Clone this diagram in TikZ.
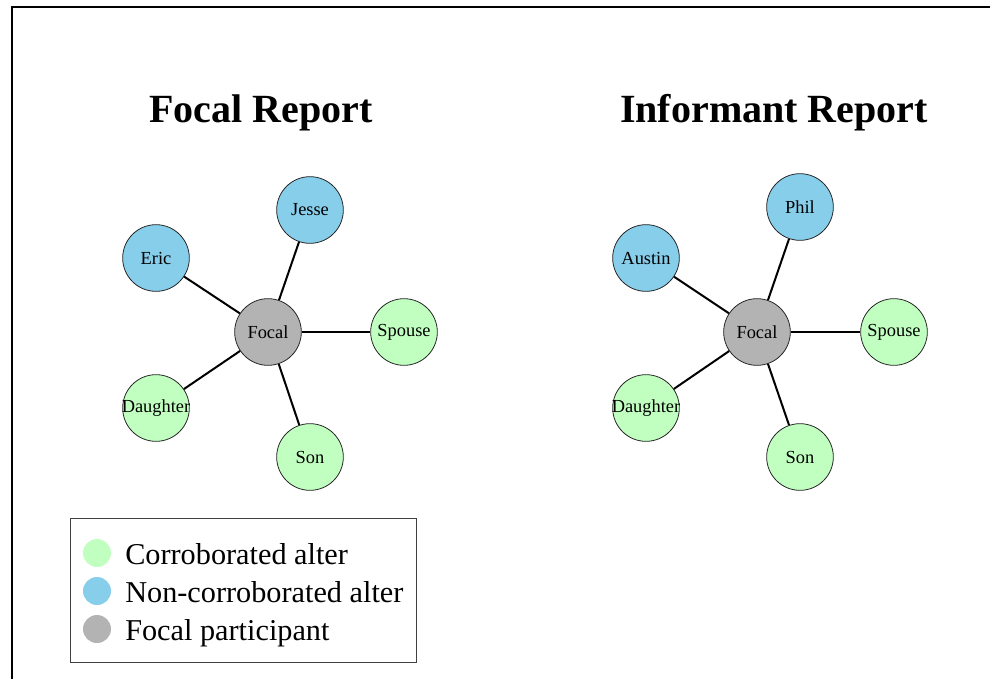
\documentclass[tikz,border=0pt]{standalone}
\usepackage{fontspec}
\setmainfont{Liberation Serif}
\definecolor{corrgreen}{HTML}{C1FFC1}
\definecolor{noncorrblue}{HTML}{87CEEB}
\definecolor{focalgray}{HTML}{B3B3B3}
\begin{document}
\begin{tikzpicture}[x=0.75pt, y=-0.75pt,
    alter/.style={circle, draw=black!85, line width=0.6pt, minimum size=50pt, inner sep=0pt, font=\fontsize{13.8}{15}\selectfont},
    corr/.style={alter, fill=corrgreen},
    noncorr/.style={alter, fill=noncorrblue},
    focal/.style={alter, fill=focalgray},
    tie/.style={line width=1.5pt},
    plottitle/.style={anchor=base, inner sep=0pt, font=\fontsize{30}{34}\selectfont\bfseries},
    legdot/.style={circle, inner sep=0pt, minimum size=21pt},
    legtext/.style={anchor=base west, inner sep=0pt, font=\fontsize{22.7}{25}\selectfont}]
    \useasboundingbox (0,0) rectangle (990,679);
    % Khung ngoai
    \draw[line width=1.5pt] (12,679) -- (12,7) -- (990,7);
    % Tieu de
    \node[plottitle] (t-focal) at (261,122) {Focal Report};
    \node[plottitle] (t-inf) at (774,122) {Informant Report};
    % Mang cua nguoi tham gia (focal)
    \node[focal] (f-focal) at (268,332) {Focal};
    \node[noncorr] (f-eric) at (156,258) {Eric};
    \node[noncorr] (f-jesse) at (310,210) {Jesse};
    \node[corr] (f-spouse) at (404,332) {Spouse};
    \node[corr] (f-daughter) at (156,408) {\makebox[0pt]{Daughter}};
    \node[corr] (f-son) at (310,457) {Son};
    % Mang cua nguoi cung cap thong tin (informant)
    \node[focal] (i-focal) at (757,332) {Focal};
    \node[noncorr] (i-austin) at (646,258) {Austin};
    \node[noncorr] (i-phil) at (800,207) {Phil};
    \node[corr] (i-spouse) at (894,332) {Spouse};
    \node[corr] (i-daughter) at (646,408) {\makebox[0pt]{Daughter}};
    \node[corr] (i-son) at (800,457) {Son};
    % Cac canh
    \foreach \a in {eric,jesse,spouse,daughter,son}
        \draw[tie] (f-focal) -- (f-\a);
    \foreach \a in {austin,phil,spouse,daughter,son}
        \draw[tie] (i-focal) -- (i-\a);
    % Chu giai
    \draw[line width=0.75pt, black!75] (70,518) rectangle (416,662);
    \node[legdot, fill=corrgreen] (l-corr) at (97,553) {};
    \node[legdot, fill=noncorrblue] (l-noncorr) at (97,591) {};
    \node[legdot, fill=focalgray] (l-focal) at (97,629) {};
    \node[legtext] (lt-corr) at (125,564) {Corroborated alter};
    \node[legtext] (lt-noncorr) at (125,602) {Non-corroborated alter};
    \node[legtext] (lt-focal) at (125,640) {Focal participant};
\end{tikzpicture}
\end{document}
